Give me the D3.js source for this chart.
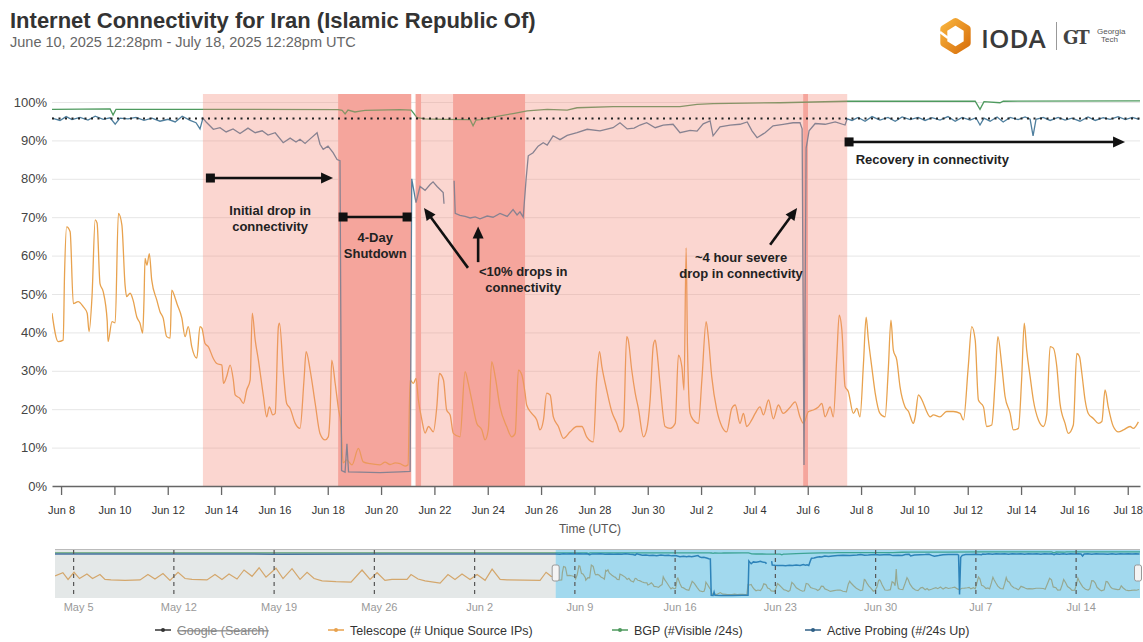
<!DOCTYPE html>
<html><head><meta charset="utf-8">
<script src="https://cdn.jsdelivr.net/npm/d3@7"></script>
<style>body{margin:0;background:#fff;} svg{display:block;font-family:"Liberation Sans",Arial,Helvetica,sans-serif;}</style>
</head><body><svg id="c" width="1143" height="642"></svg>
<script>
// time values are "day numbers": days since 2025-05-31 00:00 UTC (8 = Jun 8, 31 = Jul 1, 48 = Jul 18, -26 = May 5)
const telescope = [
[7.66,45],[7.89,37.6],[8.08,38],[8.13,55],[8.21,67.5],[8.34,66.2],[8.46,47.5],[8.64,48],[8.83,46.7],[8.98,45],[9.05,40.2],[9.16,49.3],[9.28,69.3],[9.35,68.5],[9.46,52.7],[9.58,50.6],[9.73,43],[9.76,37.6],[9.91,42.8],[10.03,42.5],[10.15,71],[10.28,68],[10.40,52.3],[10.46,49.3],[10.59,50.2],[10.70,48.4],[10.84,44],[10.96,42.4],[11.06,39.8],[11.11,48.4],[11.15,59.3],[11.22,57.5],[11.31,60.5],[11.40,53.6],[11.59,48.4],[11.71,45.4],[11.83,43.7],[11.96,38.9],[12.09,38.5],[12.15,51],[12.28,48.9],[12.34,47.6],[12.53,43.7],[12.65,38.9],[12.77,41.5],[12.90,36.3],[13.09,33.3],[13.21,41.5],[13.28,41.1],[13.40,37.1],[13.52,36.3],[13.71,33.2],[13.84,31.9],[14.03,31.5],[14.09,26.7],[14.21,28.5],[14.34,31.5],[14.46,27.6],[14.53,23.7],[14.71,22.8],[14.84,21.5],[14.96,25],[15.09,27.6],[15.17,45],[15.28,38],[15.40,32.8],[15.59,23.3],[15.71,18],[15.81,20.6],[15.94,18.5],[16.03,18.9],[16.15,41.5],[16.19,42.4],[16.34,29.3],[16.46,21.5],[16.59,20.2],[16.78,16.3],[16.96,15],[17.11,27.6],[17.19,35],[17.34,30.2],[17.53,21.5],[17.71,13.7],[17.90,12],[18.02,12.8],[18.09,19.3],[18.15,32.8],[18.28,26.7],[18.40,20.2],[18.49,16.3],[18.58,6],[18.71,6.8],[18.91,5.5],[19.15,9.8],[19.33,6.3],[19.59,5.8],[19.96,5.5],[20.15,6.2],[20.34,5.6],[20.53,6.0],[20.71,5.8],[20.90,5.2],[21.01,5.5],[21.09,27.6],[21.21,26.7],[21.31,28],[21.40,22.4],[21.53,17.2],[21.65,13.8],[21.78,15.5],[21.96,14.1],[22.09,20.6],[22.19,29.3],[22.34,27.6],[22.46,19.8],[22.59,18.5],[22.71,13.7],[22.96,12.8],[23.15,29.8],[23.27,26.7],[23.40,22.4],[23.59,16.3],[23.78,14.6],[23.90,12],[24.02,14.6],[24.15,32.4],[24.28,28.5],[24.46,20.6],[24.71,15.5],[24.90,12.8],[25.03,13.7],[25.15,30.2],[25.28,28.9],[25.40,24.2],[25.46,21.1],[25.65,18.9],[25.84,17.2],[25.96,14.6],[26.09,17.2],[26.21,24.2],[26.34,23.7],[26.46,18],[26.65,15.5],[26.84,12.4],[27.09,14.1],[27.34,15.5],[27.53,15.5],[27.71,12.8],[27.96,11.5],[28.09,28.5],[28.19,35],[28.28,31.1],[28.46,25],[28.65,19.4],[28.84,16.3],[28.96,14.1],[29.09,15.5],[29.21,38.9],[29.27,38],[29.40,30.2],[29.53,24.2],[29.65,20.2],[29.84,12.8],[29.96,14.6],[30.09,22.4],[30.21,36.7],[30.28,38],[30.34,35.4],[30.46,26.7],[30.65,15.5],[30.84,15],[31.03,16.3],[31.15,34.1],[31.28,31.1],[31.36,25],[31.44,62],[31.49,36.3],[31.59,18.9],[31.71,17.2],[31.90,16.3],[32.03,27.6],[32.19,42.8],[32.27,38.9],[32.40,28.5],[32.59,19.8],[32.78,15.5],[32.96,14.1],[33.15,20.2],[33.28,21.1],[33.46,16.3],[33.59,18.9],[33.71,15.5],[33.90,17.2],[34.03,18.9],[34.21,20.6],[34.34,18.5],[34.53,22.4],[34.71,17.5],[34.90,21.1],[35.08,18.9],[35.34,20.5],[35.53,21.9],[35.71,18],[35.84,16.3],[36.03,19.4],[36.21,19.8],[36.40,20.6],[36.53,21.5],[36.65,18],[36.84,20.6],[36.96,18],[37.09,33.7],[37.18,44.5],[37.28,40.6],[37.40,25.9],[37.52,24.6],[37.71,18.9],[37.84,20.2],[37.96,18],[38.09,31.9],[38.19,44],[38.27,38.4],[38.40,31.1],[38.53,24.2],[38.71,18.9],[38.90,18],[39.02,30.2],[39.12,43.2],[39.21,35.4],[39.34,32.8],[39.46,25.9],[39.65,20.6],[39.78,19.4],[39.96,16.3],[40.03,18],[40.15,23.7],[40.34,21.5],[40.46,19.4],[40.59,18],[40.71,18.5],[40.96,18],[41.21,19.4],[41.46,19.4],[41.71,18.9],[41.84,17.2],[42.02,31.1],[42.15,41.5],[42.28,38],[42.40,22.4],[42.59,20.6],[42.71,15.5],[42.90,15.9],[43.03,27.6],[43.13,38.9],[43.28,31.1],[43.40,23.3],[43.59,18.9],[43.71,14.6],[43.90,15],[44.02,27.6],[44.12,42.4],[44.21,35.4],[44.34,28.5],[44.46,22.4],[44.65,17.2],[44.84,15.5],[44.96,18.5],[45.09,36.3],[45.21,35.9],[45.34,31.1],[45.46,21.5],[45.65,16.3],[45.77,13.7],[45.96,15.9],[46.09,34.5],[46.19,33.7],[46.28,29.3],[46.40,22.4],[46.52,18.9],[46.71,17.6],[46.90,16.3],[47.03,16.8],[47.15,25],[47.27,20.6],[47.46,15.5],[47.65,14.1],[47.84,14.6],[48.09,15.5],[48.21,15],[48.40,16.7]
];
const activeProbing = [
[7.66,95.8],[7.96,95.2],[8.19,96.2],[8.41,95.4],[8.71,96.0],[9.01,95.3],[9.28,96.3],[9.58,95.5],[9.84,95.9],[10.03,94.2],[10.21,95.8],[10.51,95.6],[10.81,96.0],[11.11,95.2],[11.41,95.8],[11.71,95.0],[12.01,95.5],[12.28,94.8],[12.54,96.3],[12.84,95.2],[13.06,94.6],[13.21,93.0],[13.32,95.8],[13.44,94.8],[13.71,92.9],[13.96,93.3],[14.19,92.2],[14.45,93.0],[14.71,91.8],[15.01,93.2],[15.28,92.0],[15.54,92.5],[15.76,91.4],[16.03,92.0],[16.33,89.4],[16.59,90.6],[16.81,89.6],[16.96,90.3],[17.15,89.2],[17.34,90.4],[17.60,92.0],[17.71,89.0],[17.83,87.7],[18.01,88.5],[18.20,86.8],[18.35,85.0],[18.46,84.7],[18.52,4.0],[18.65,3.6],[18.72,11],[18.78,3.7],[19.21,3.6],[19.96,3.5],[20.71,3.7],[21.09,3.8],[21.15,80],[21.20,78],[21.31,73.8],[21.46,78],[21.65,77],[21.84,78.5],[21.95,79.2],[22.10,78],[22.33,76.4],[22.36,73.5],[22.5,null],[22.74,79.5],[22.78,71],[22.96,70.5],[23.15,70.2],[23.34,69.8],[23.53,70.1],[23.71,69.6],[23.98,70.3],[24.20,70.0],[24.46,71.0],[24.73,70.2],[24.95,72.0],[25.10,70.6],[25.21,71.4],[25.33,70.0],[25.44,80],[25.52,86],[25.70,86.8],[25.89,88.5],[26.08,89.4],[26.23,88.8],[26.45,91.2],[26.71,90.2],[26.98,91.3],[27.35,92.0],[27.73,92.9],[28.21,92.5],[28.70,93.3],[28.96,94.6],[29.23,93.0],[29.49,93.2],[29.71,94.0],[29.96,94.6],[30.28,93.3],[30.58,94.0],[30.95,94.2],[31.21,92.0],[31.59,92.6],[31.85,92.4],[32.08,94.3],[32.34,95.1],[32.45,91.2],[32.71,93.5],[33.09,94.0],[33.46,94.2],[33.73,94.8],[33.91,92.5],[34.10,90.7],[34.40,92.0],[34.70,93.8],[35.08,94.2],[35.45,94.6],[35.71,94.6],[35.79,93],[35.86,5.5],[35.94,88],[36.05,92.5],[36.28,94.4],[36.65,94.2],[37.03,94.8],[37.40,94.0],[37.48,95.6],[37.66,95.2],[37.89,96.0],[38.15,95.0],[38.41,96.2],[38.71,95.3],[39.01,96.0],[39.28,95.0],[39.54,96.1],[39.84,95.4],[40.14,96.0],[40.40,95.2],[40.66,95.9],[40.96,95.3],[41.26,96.2],[41.53,95.0],[41.79,96.0],[42.09,95.3],[42.31,95.9],[42.46,94.0],[42.61,95.8],[42.84,95.0],[43.10,96.1],[43.33,94.8],[43.59,96.0],[43.89,95.4],[44.15,96.1],[44.34,95.5],[44.45,91.2],[44.56,95.5],[44.83,96.0],[45.09,95.2],[45.39,96.0],[45.65,95.3],[45.91,95.8],[46.21,95.0],[46.51,96.1],[46.78,95.2],[47.08,95.9],[47.34,95.5],[47.64,96.2],[47.91,95.4],[48.17,96.0],[48.43,95.5]
];
const bgp = [
[7.66,98.1],[9.84,98.2],[9.95,96.6],[10.06,98.1],[13.21,98.1],[18.39,98.0],[18.54,97.8],[18.65,96.9],[18.76,97.9],[19.02,97.4],[19.21,97.6],[19.40,97.8],[20.71,98.0],[21.13,97.9],[21.35,95.9],[21.65,95.6],[22.40,95.5],[23.34,95.4],[23.45,93.8],[23.56,95.3],[23.71,95.4],[24.46,96.4],[24.95,97.0],[25.48,97.7],[26.23,98.1],[26.98,97.9],[27.35,98.5],[28.70,98.8],[31.21,98.8],[31.85,99.4],[32.45,99.6],[34.96,99.8],[37.48,100.2],[42.28,100.2],[42.46,98.1],[42.61,100.1],[43.21,99.8],[43.33,100.2],[48.46,100.3]
];
// navigator-only history (May 3 - Jun 7)
const navTelescopeEarly = [
[-27.3,47],[-26.75,54],[-26.39,39],[-25.97,55],[-25.59,41],[-25.07,51],[-24.68,41],[-24.16,50],[-23.81,39],[-23.39,38],[-22.41,37],[-21.36,38],[-20.81,50],[-20.32,40],[-19.76,52],[-19.27,37],[-18.71,55],[-18.22,41],[-17.73,39],[-16.69,38],[-16.13,50],[-15.64,39],[-15.15,51],[-14.59,40],[-14.10,60],[-13.54,46],[-13.05,65],[-12.57,44],[-11.87,64],[-11.38,41],[-10.75,63],[-10.19,39],[-9.70,55],[-9.21,41],[-8.65,36],[-7.68,34],[-6.63,33],[-5.86,60],[-5.30,39],[-4.81,54],[-4.26,37],[-3.77,39],[-2.72,39],[-2.44,50],[-1.95,40],[-1.46,36],[-0.41,31],[0.14,50],[0.63,39],[1.12,51],[1.68,39],[2.17,50],[2.73,37],[3.22,62],[3.78,39],[4.26,38],[6.57,37],[6.99,55],[7.34,46],[7.66,45]
];
const navActiveEarly = [[-27.3,95.5],[-20,95.8],[-12,95.2],[-4,95.6],[7.66,95.8]];
const navBgpEarly = [[-27.3,98.2],[7.66,98.1]];

const yTicks = [0,10,20,30,40,50,60,70,80,90,100];
const xTickDays = [8,10,12,14,16,18,20,22,24,26,28,30,32,34,36,38,40,42,44,46,48];
const alertBands = [[13.32,21.13],[21.27,37.48]];
const severeBands = [[18.39,21.13],[21.31,21.5],[22.7,25.4],[35.83,36.01]];
const referenceLevel = 95.7;
const legendItems = [
  {name:"Google (Search)", color:"#333", off:true},
  {name:"Telescope (# Unique Source IPs)", color:"#e8a24e"},
  {name:"BGP (#Visible /24s)", color:"#4e9a5e"},
  {name:"Active Probing (#/24s Up)", color:"#2f5f86"}
];

const DAY = 864e5, BASE = Date.UTC(2025,4,31);
const D = d => new Date(BASE + d*DAY);
const svg = d3.select('#c');
svg.append('rect').attr('width',1143).attr('height',642).attr('fill','#fff');
const defs = svg.append('defs');

// ---------- header ----------
svg.append('text').attr('x',10).attr('y',28).attr('font-size',22).attr('font-weight','bold').attr('fill','#333')
  .text('Internet Connectivity for Iran (Islamic Republic Of)');
svg.append('text').attr('x',10).attr('y',47).attr('font-size',14.5).attr('fill','#666')
  .text('June 10, 2025 12:28pm - July 18, 2025 12:28pm UTC');

// logo
const lg = svg.append('g');
const hex = d3.range(6).map(i=>{const a=Math.PI/3*i - Math.PI/2; return [955.5+13.5*Math.cos(a), 36+14.5*Math.sin(a)];});
const grad = defs.append('linearGradient').attr('id','og').attr('x1','0').attr('y1','0').attr('x2','1').attr('y2','1');
grad.append('stop').attr('offset','0').attr('stop-color','#f7b13b');
grad.append('stop').attr('offset','1').attr('stop-color','#d9720e');
lg.append('path').attr('d','M'+hex.join('L')+'Z').attr('fill','none').attr('stroke','url(#og)').attr('stroke-width',7).attr('stroke-linejoin','round');
lg.append('line').attr('x1',940).attr('y1',32).attr('x2',948).attr('y2',38).attr('stroke','#fff').attr('stroke-width',2.5);
lg.append('text').attr('x',981).attr('y',48).attr('font-size',26).attr('font-weight',600).attr('fill','#3a3a3a').attr('font-family','"Open Sans",sans-serif').text('IODA');
lg.append('line').attr('x1',1056.5).attr('x2',1056.5).attr('y1',22).attr('y2',50).attr('stroke','#999').attr('stroke-width',1);
lg.append('text').attr('x',1063).attr('y',44).attr('font-size',18).attr('font-weight','bold').attr('font-family','"DejaVu Serif",serif').attr('fill','#444').attr('letter-spacing',-2).text('GT');
lg.append('text').attr('x',1097).attr('y',34).attr('font-size',8).attr('fill','#555').text('Georgia');
lg.append('text').attr('x',1101).attr('y',42).attr('font-size',8).attr('fill','#555').text('Tech');

// ---------- main chart ----------
const x = d3.scaleUtc().domain([D(7.66), D(48.46)]).range([52,1140]);
const y = d3.scaleLinear().domain([0,100]).range([486,102]);

defs.append('clipPath').attr('id','clipMain').append('rect').attr('x',52).attr('y',90).attr('width',1088).attr('height',400);

const grid = svg.append('g');
grid.selectAll('line').data(yTicks.filter(v=>v>0)).join('line')
  .attr('x1',52).attr('x2',1140).attr('y1',d=>y(d)+0.5).attr('y2',d=>y(d)+0.5).attr('stroke','#e6e6e6');
svg.append('g').selectAll('text').data(yTicks).join('text')
  .attr('x',47).attr('y',d=>y(d)+4.5).attr('text-anchor','end').attr('font-size',13).attr('fill','#444').text(d=>d+'%');

const plot = svg.append('g').attr('clip-path','url(#clipMain)');
// severe alert bands (behind the series)
plot.selectAll('rect.sev').data(severeBands).join('rect').attr('class','sev')
  .attr('x',d=>x(D(d[0]))).attr('width',d=>x(D(d[1]))-x(D(d[0]))).attr('y',y(100)-8).attr('height',y(0)-y(100)+8)
  .attr('fill','#f6b4b0');

const line = d3.line().defined(d=>d[1]!=null).x(d=>x(D(d[0]))).y(d=>y(d[1]));
const smooth = d3.line().curve(d3.curveMonotoneX).x(d=>x(D(d[0]))).y(d=>y(d[1]));
plot.append('path').datum(telescope).attr('d',smooth).attr('fill','none').attr('stroke','#e8a24e').attr('stroke-width',1.3);
plot.append('path').datum(bgp).attr('d',line).attr('fill','none').attr('stroke','#4e9a5e').attr('stroke-width',1.3);
plot.append('path').datum(activeProbing).attr('d',line).attr('fill','none').attr('stroke','#4f7f9e').attr('stroke-width',1.3);

// alert bands (over the series)
plot.selectAll('rect.al').data(alertBands).join('rect').attr('class','al')
  .attr('x',d=>x(D(d[0]))).attr('width',d=>x(D(d[1]))-x(D(d[0]))).attr('y',y(100)-8).attr('height',y(0)-y(100)+8)
  .attr('fill','rgb(244,138,121)').attr('fill-opacity',0.35);

// reference dotted line
svg.append('line').attr('x1',52).attr('x2',1140).attr('y1',y(referenceLevel)).attr('y2',y(referenceLevel))
  .attr('stroke','#222').attr('stroke-width',1.8).attr('stroke-dasharray','2,4.5');

// x axis
const xAxis = svg.append('g').attr('transform','translate(0,486)')
  .call(d3.axisBottom(x).tickValues(xTickDays.map(D)).tickFormat(d3.utcFormat('%b %-d')).tickSize(9).tickSizeOuter(0).tickPadding(11));
xAxis.select('.domain').attr('stroke','#666').attr('stroke-width',1.3);
xAxis.selectAll('.tick line').attr('stroke','#666').attr('stroke-width',1.3);
xAxis.selectAll('.tick text').attr('font-size',11).attr('fill','#333').attr('font-family','"Liberation Sans",Arial,sans-serif');
svg.append('text').attr('x',590).attr('y',533).attr('text-anchor','middle').attr('font-size',12).attr('fill','#555').text('Time (UTC)');

// ---------- annotations ----------
const ann = svg.append('g');
function P(d,v){return [x(D(d)), y(v)];}
function arrow(a,b,head=true){
  const [x1,y1]=a,[x2,y2]=b;
  const ang=Math.atan2(y2-y1,x2-x1), L=head?10:0;
  ann.append('line').attr('x1',x1).attr('y1',y1).attr('x2',x2-L*Math.cos(ang)).attr('y2',y2-L*Math.sin(ang)).attr('stroke','#111').attr('stroke-width',2.6);
  if(head){
    const w=5.5;
    const bx=x2-12*Math.cos(ang), by=y2-12*Math.sin(ang);
    ann.append('path').attr('d',`M${x2},${y2}L${bx+w*Math.sin(ang)},${by-w*Math.cos(ang)}L${bx-w*Math.sin(ang)},${by+w*Math.cos(ang)}Z`).attr('fill','#111');
  }
}
function sq(p){ann.append('rect').attr('x',p[0]-4.5).attr('y',p[1]-4.5).attr('width',9).attr('height',9).attr('fill','#111');}
function label(lines,p,anchor='middle'){
  lines.forEach((t,i)=>ann.append('text').attr('x',p[0]).attr('y',p[1]+i*16).attr('text-anchor',anchor)
    .attr('font-size',13).attr('font-weight','bold').attr('fill','#222').text(t));
}
arrow(P(13.6,80.2),P(18.2,80.2)); sq(P(13.6,80.2));
label(['Initial drop in','connectivity'],P(15.84,70.6));
arrow(P(18.575,70.05),P(20.975,70.05),false); sq(P(18.575,70.05)); sq(P(20.975,70.05));
label(['4-Day','Shutdown'],P(19.78,63.6));
arrow(P(23.26,56.8),P(21.61,72.4));
arrow(P(23.64,58.3),P(23.64,67.6));
label(['<10% drops in','connectivity'],P(25.33,54.8));
arrow(P(34.59,62.8),P(35.6,72.4));
label(['~4 hour severe','drop in connectivity'],P(33.5,58.4));
arrow(P(37.55,89.6),P(47.9,89.6)); sq(P(37.55,89.6));
label(['Recovery in connectivity'],P(37.8,83.8),'start');

// ---------- navigator ----------
const nx = d3.scaleUtc().domain([D(-27.3), D(48.46)]).range([55,1140]);
const ny = d3.scaleLinear().domain([0,100]).range([597,552]);
const nav = svg.append('g');
defs.append('clipPath').attr('id','clipNav').append('rect').attr('x',55).attr('y',549).attr('width',1085).attr('height',49);
const ng = nav.append('g').attr('clip-path','url(#clipNav)');
const nline = d3.line().defined(d=>d[1]!=null).x(d=>nx(D(d[0]))).y(d=>ny(d[1]));
ng.append('path').datum(navTelescopeEarly.concat(telescope.slice(1))).attr('d',nline).attr('fill','none').attr('stroke','#e8a24e').attr('stroke-width',1.2);
ng.append('path').datum(navBgpEarly.concat(bgp.slice(1))).attr('d',nline).attr('fill','none').attr('stroke','#3f9a55').attr('stroke-width',1.3);
ng.append('path').datum(navActiveEarly.concat(activeProbing.slice(1))).attr('d',nline).attr('fill','none').attr('stroke','#1f5a9a').attr('stroke-width',1.5);
const selX = nx(D(7.66));
ng.append('rect').attr('x',55).attr('y',549).attr('width',selX-55).attr('height',49).attr('fill','rgb(165,178,178)').attr('fill-opacity',0.3);
ng.append('rect').attr('x',selX).attr('y',549).attr('width',1140-selX).attr('height',49).attr('fill','rgb(60,175,220)').attr('fill-opacity',0.48);
nav.append('line').attr('x1',55).attr('x2',1140).attr('y1',549.5).attr('y2',549.5).attr('stroke','#bbb');
const weeks = d3.utcMonday.range(D(-27.3), D(48.46));
nav.selectAll('line.wk').data(weeks).join('line').attr('class','wk')
  .attr('x1',d=>nx(d)).attr('x2',d=>nx(d)).attr('y1',550).attr('y2',598)
  .attr('stroke','#555').attr('stroke-width',1.2).attr('stroke-dasharray','4,4');
nav.selectAll('text.wk').data(weeks).join('text').attr('class','wk')
  .attr('x',d=>nx(d)+5).attr('y',611).attr('text-anchor','middle').attr('font-size',11).attr('fill','#999')
  .text(d3.utcFormat('%b %-d'));
[selX, 1138].forEach(hx=>nav.append('rect').attr('x',hx-3.5).attr('y',565).attr('width',7).attr('height',16).attr('rx',2)
  .attr('fill','#f4f4f4').attr('stroke','#999'));

// ---------- legend ----------
const legX = [155, 328, 612, 805];
const leg = svg.append('g');
legendItems.forEach((it,i)=>{
  const g = leg.append('g').attr('transform',`translate(${legX[i]},630)`);
  g.append('line').attr('x1',0).attr('x2',16).attr('stroke',it.color).attr('stroke-width',1.5);
  g.append('circle').attr('cx',8).attr('r',2).attr('fill',it.color);
  g.append('text').attr('x',22).attr('y',4.5).attr('font-size',12.5).attr('fill',it.off?'#888':'#333')
    .attr('text-decoration',it.off?'line-through':null).text(it.name);
});
</script>
</body></html>
